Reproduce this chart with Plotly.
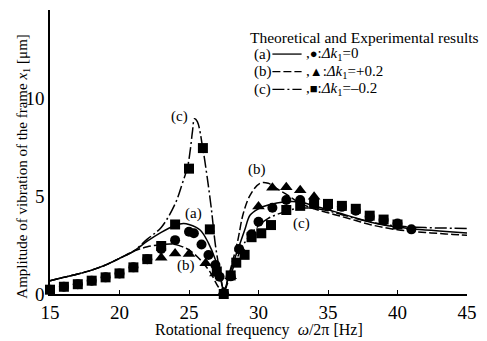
import plotly.graph_objects as go

# ---------------- data ----------------
# Theoretical curves (a) dk=0, (b) dk=+0.2, (c) dk=-0.2
fa = [15,16,17,18,19,20,21,22,23,24,24.6,25,25.8,26.4,26.9,27.2,27.5,28,28.55,29,29.4,30,30.7,31.9,33,34,35,36,37,38,39,40,41,42,43,44,45]
va = [0.68,0.85,1.02,1.22,1.48,1.82,2.18,2.7,3.15,3.5,3.6,3.55,3.27,2.6,1.75,1.0,0.0,1.2,2.33,3.25,4.03,4.35,4.54,4.71,4.7,4.5,4.3,4.1,3.88,3.68,3.52,3.42,3.33,3.27,3.22,3.17,3.12]

fb = [15,16,17,18,19,20,21,22,23,23.8,24.5,25,25.6,26,26.5,27.1,27.5,28,28.5,28.9,29.4,30.1,30.7,31.3,32.1,33,34,35,36,37,38,39,40,41,42,43,44,45]
vb = [0.68,0.85,1.02,1.22,1.48,1.82,2.18,2.41,2.52,2.55,2.42,2.25,1.9,1.6,1.14,0.37,0.0,1.3,2.7,4.1,5.05,5.65,5.65,5.39,5.05,4.63,4.35,4.15,3.95,3.75,3.55,3.4,3.28,3.2,3.14,3.09,3.04,3.0]

fc = [15,16,17,18,19,20,21,22,23,24,24.5,24.9,25.1,25.25,25.4,25.6,26,26.3,26.6,26.9,27.2,27.5,28,28.5,28.9,29.7,30.7,31.9,32.8,34,35,36,37,38,39,40,41,42,43,44,45]
vc = [0.68,0.85,1.02,1.22,1.48,1.82,2.18,2.8,3.4,4.6,5.6,6.5,7.4,8.3,8.95,8.8,7.4,6.0,4.4,2.5,1.2,0.0,1.0,1.9,2.5,3.27,3.86,4.2,4.37,4.37,4.25,4.05,3.85,3.68,3.55,3.47,3.42,3.39,3.37,3.36,3.35]

# anti-resonance frequency where the curves touch zero
f_zero = 27.5

# Experimental results
f_sq = [15,16,17,18,19,20,21,22,23,24,25,26,26.5,27,27.5,28,28.4,29,29.5,30.2,30.9,32,33,34,35,36,37,38,39,40]
v_sq = [0.22,0.37,0.5,0.68,0.85,1.05,1.36,1.78,2.45,3.55,6.4,7.45,3.3,1.15,0.0,0.95,1.6,2.0,2.9,3.1,3.52,4.29,4.5,4.6,4.6,4.5,4.35,4.0,3.8,3.55]

f_ci = [15,16,17,18,19,20,21,22,23,24,25,25.35,25.9,26.4,26.9,27.2,27.5,28,28.6,29.5,30,31,32,33,34,35,36,37,38,39,40,41]
v_ci = [0.22,0.37,0.5,0.68,0.85,1.05,1.36,1.78,2.3,2.75,3.18,3.1,2.53,1.99,1.48,0.88,0.05,0.9,2.3,3.05,3.69,4.4,4.8,4.8,4.6,4.5,4.45,4.25,3.95,3.78,3.6,3.3]

f_tr = [23,24,25,26.2,26.9,27.5,28.0,28.8,30,31,32,33,34]
v_tr = [1.85,2.07,2.04,1.57,1.05,0.1,0.9,2.2,4.47,5.42,5.45,5.3,4.97]

x_ticks = [15,20,25,30,35,40,45]
y_ticks = [0,5,10]

SERIF = "Liberation Serif, Times New Roman, serif"

fig = go.Figure()

line_w = 1.5
styles = [(fa, va, None), (fb, vb, "8px,3px"), (fc, vc, "12px,3px,2px,3px")]
for fx, vy, d in styles:
    i0 = fx.index(f_zero)
    for xs, ys in [(fx[:i0 + 1], vy[:i0 + 1]), (fx[i0:], vy[i0:])]:
        ln = dict(color="black", width=line_w)
        if d:
            ln["dash"] = d
        fig.add_trace(go.Scatter(x=xs, y=ys, mode="lines", line=ln, line_shape="spline",
                                 hoverinfo="skip", showlegend=False))

fig.add_trace(go.Scatter(x=f_sq, y=v_sq, mode="markers", marker=dict(symbol="square", size=10, color="black"), cliponaxis=False, showlegend=False))
fig.add_trace(go.Scatter(x=f_ci, y=v_ci, mode="markers", marker=dict(symbol="circle", size=10, color="black"), cliponaxis=False, showlegend=False))
fig.add_trace(go.Scatter(x=f_tr, y=v_tr, mode="markers", marker=dict(symbol="triangle-up", size=11, color="black"), cliponaxis=False, showlegend=False))

ann = []
# curve labels
for txt, x, y in [("(c)", 24.3, 9.05), ("(a)", 25.3, 4.1), ("(b)", 24.8, 1.45), ("(b)", 29.9, 6.35), ("(c)", 33.1, 3.6)]:
    ann.append(dict(x=x, y=y, xref="x", yref="y", text=txt, showarrow=False, font=dict(family=SERIF, size=15, color="black")))

# legend block (text)
ann.append(dict(x=37.6, y=13.1, xref="x", yref="y", text="Theoretical and Experimental results", showarrow=False,
                font=dict(family=SERIF, size=15.5, color="black")))
rows = [("(a)", "●", "=0", 12.25), ("(b)", "▲", "=+0.2", 11.35), ("(c)", "■", "=–0.2", 10.45)]
for lab, sym, val, yv in rows:
    ann.append(dict(x=29.55, y=yv, xref="x", yref="y", xanchor="left", text=lab, showarrow=False,
                    font=dict(family=SERIF, size=15, color="black")))
    ann.append(dict(x=33.3, y=yv, xref="x", yref="y", xanchor="left",
                    text=",<span style='font-size:13px'>" + sym + "</span>:<i>Δk</i><sub>1</sub>" + val,
                    showarrow=False, font=dict(family=SERIF, size=15, color="black")))

# axis titles
ann.append(dict(x=0.5, y=-0.125, xref="paper", yref="paper", text="Rotational frequency  <i>ω</i>/2π [Hz]", showarrow=False,
                yanchor="middle", font=dict(family=SERIF, size=16, color="black")))
ann.append(dict(x=-0.09, y=0.45, xref="paper", yref="paper", text="Amplitude of vibration of the frame <i>x</i><sub>1</sub> [μm]",
                showarrow=False, textangle=-90, font=dict(family=SERIF, size=15, color="black")))

shapes = []
dash_styles = [None, "8px,3px", "12px,3px,2px,3px"]
for (lab, sym, val, yv), d in zip(rows, dash_styles):
    ln = dict(color="black", width=1.3)
    if d:
        ln["dash"] = d
    shapes.append(dict(type="line", xref="x", yref="y", x0=31.0, x1=33.1, y0=yv, y1=yv, line=ln))

fig.update_layout(
    width=487, height=341,
    margin=dict(l=50, r=14, t=10, b=47),
    paper_bgcolor="white", plot_bgcolor="white",
    annotations=ann, shapes=shapes,
    font=dict(family=SERIF, color="black"),
    hovermode=False,
    xaxis=dict(range=[15, 45], tickvals=x_ticks, ticktext=[str(t) for t in x_ticks],
               showline=True, linecolor="black", linewidth=1.5, ticks="inside", ticklen=4, tickcolor="black",
               showgrid=False, zeroline=False, tickfont=dict(family=SERIF, size=19, color="black")),
    yaxis=dict(range=[0, 14.5], tickvals=y_ticks, ticktext=[str(t) for t in y_ticks],
               showline=True, linecolor="black", linewidth=1.5, ticks="",
               showgrid=False, zeroline=False, tickfont=dict(family=SERIF, size=19, color="black")),
)

fig.write_html("out.html", config={"displayModeBar": False},
               post_script="document.body.style.margin='0';document.body.style.overflow='hidden';")
